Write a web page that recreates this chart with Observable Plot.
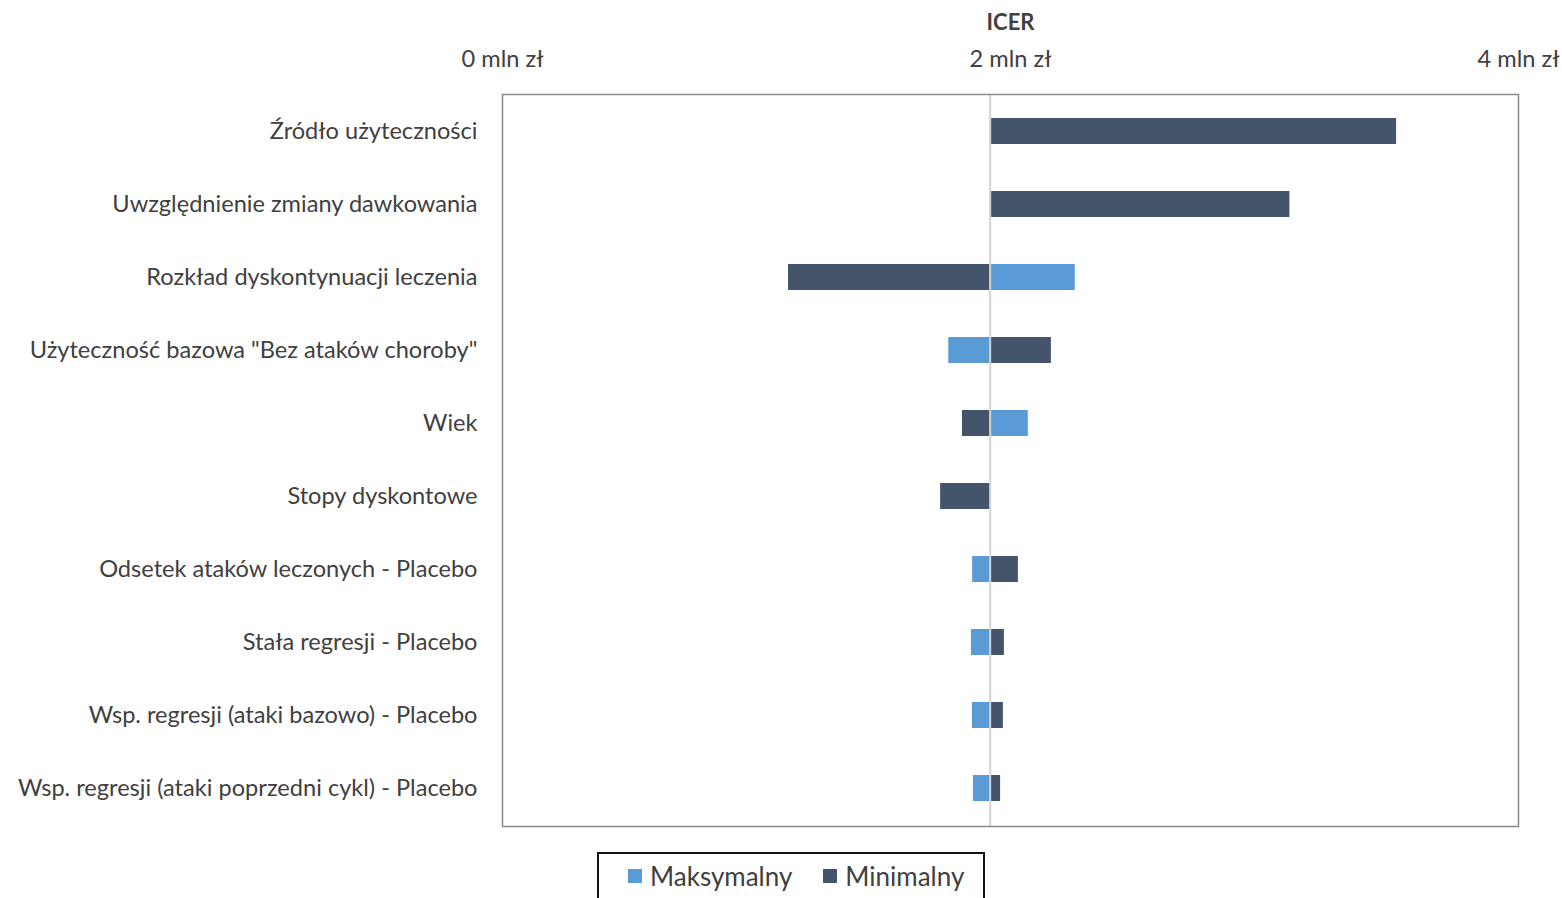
<!DOCTYPE html>
<html>
<head>
<meta charset="utf-8">
<script src="https://cdn.jsdelivr.net/npm/d3@7"></script>
<script src="https://cdn.jsdelivr.net/npm/@observablehq/plot@0.6"></script>
<style>
  body { margin: 0; background: #fff; font-family: Lato, "Open Sans", sans-serif; }
  #legend { margin-left: 597px; margin-top: 12px; width: 388px; height: 60px; border: 2px solid #111; border-bottom: none;
    display: flex; align-items: flex-start; padding-top: 6px; box-sizing: border-box; font-size: 26px; color: #404040; }
  .item { display: flex; align-items: center; }
  .item:first-child { margin-left: 29px; }
  .item + .item { margin-left: 31px; }
  .sw { width: 14px; height: 14px; margin-right: 8px; }
</style>
</head>
<body>
<div id="chart"></div>
<div id="legend"></div>
<script>
const categories = [
  "Źródło użyteczności",
  "Uwzględnienie zmiany dawkowania",
  "Rozkład dyskontynuacji leczenia",
  "Użyteczność bazowa \"Bez ataków choroby\"",
  "Wiek",
  "Stopy dyskontowe",
  "Odsetek ataków leczonych - Placebo",
  "Stała regresji - Placebo",
  "Wsp. regresji (ataki bazowo) - Placebo",
  "Wsp. regresji (ataki poprzedni cykl) - Placebo"
];
// ICER in mln zł
const baseICER = 1.92;
const maxValues = [null, null, 2.255, 1.757, 2.07, null, 1.851, 1.846, 1.850, 1.854];
const minValues = [3.52, 3.10, 1.126, 2.161, 1.811, 1.725, 2.031, 1.976, 1.972, 1.961];
const seriesNames = ["Maksymalny", "Minimalny"];
const seriesColors = ["#5B9BD5", "#44546A"];
const xTicks = [0, 2, 4];

const rows = [];
categories.forEach((c, i) => {
  if (maxValues[i] != null) rows.push({cat: c, series: seriesNames[0], v: maxValues[i]});
  if (minValues[i] != null) rows.push({cat: c, series: seriesNames[1], v: minValues[i]});
});

const chart = Plot.plot({
  width: 1562,
  height: 840,
  marginTop: 94,
  marginBottom: 14,
  marginLeft: 502,
  marginRight: 44,
  style: {fontFamily: "Lato, 'Open Sans', sans-serif", fontSize: "23.6px", color: "#404040", background: "#fff"},
  x: {domain: [0, 4], axis: "top", ticks: xTicks, tickSize: 0, tickPadding: 28,
      tickFormat: d => `${d} mln zł`, label: null},
  y: {domain: categories, paddingInner: 0.64, paddingOuter: 0.32, tickSize: 0, tickPadding: 25, label: null},
  color: {domain: seriesNames, range: seriesColors},
  marks: [
    Plot.barX(rows, {y: "cat", x1: () => baseICER, x2: "v", fill: "series", inset: 0}),
    Plot.ruleX([baseICER], {stroke: "#d4d4d4", strokeWidth: 2}),
    Plot.frame({stroke: "#8a8a8a", strokeWidth: 1.5}),
    Plot.text(["ICER"], {x: () => 2, frameAnchor: "top", dy: -80, fontWeight: "bold", fontSize: 22, fill: "#404040"})
  ]
});
document.getElementById("chart").appendChild(chart);

const lg = document.getElementById("legend");
seriesNames.forEach((n, i) => {
  const it = document.createElement("div");
  it.className = "item";
  it.innerHTML = `<div class="sw" style="background:${seriesColors[i]}"></div><span>${n}</span>`;
  lg.appendChild(it);
});
</script>
</body>
</html>
